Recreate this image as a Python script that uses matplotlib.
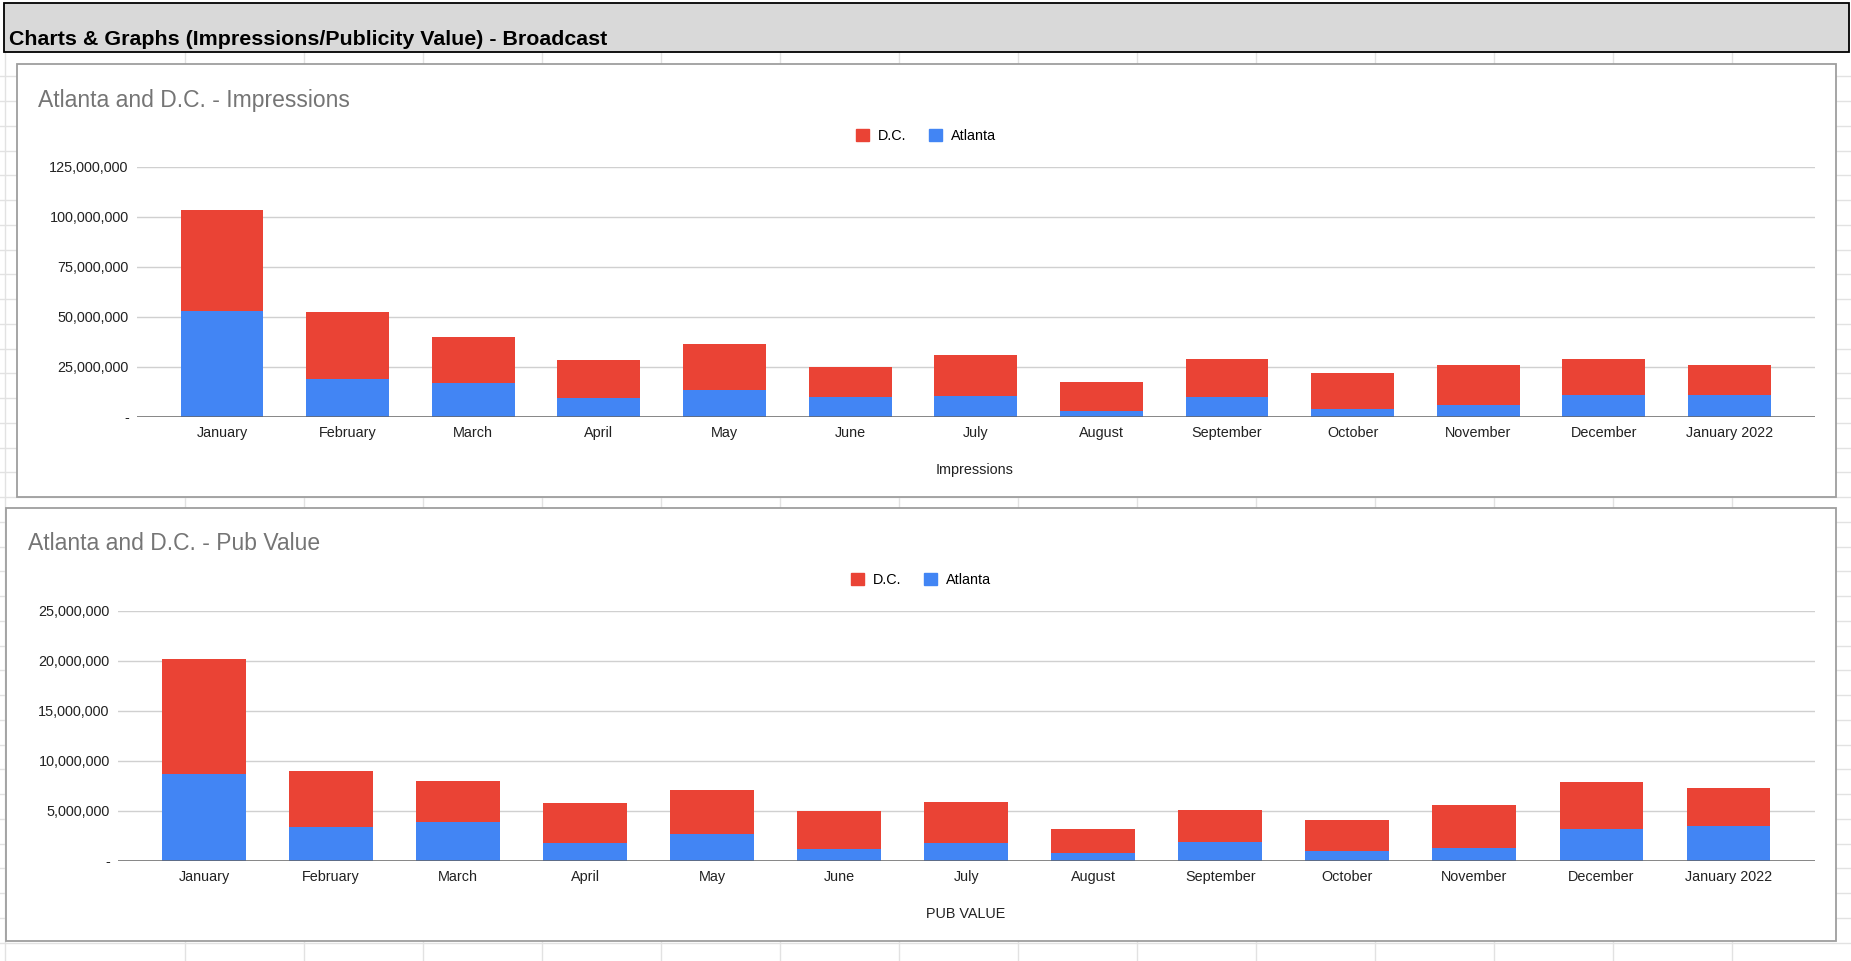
import numpy as np
import matplotlib
matplotlib.use('Agg')
import matplotlib.pyplot as plt
from matplotlib.patches import Rectangle, Patch
from matplotlib.lines import Line2D
from matplotlib.ticker import FuncFormatter

plt.rcParams['font.family'] = ['Liberation Sans', 'DejaVu Sans']

# ---- data ----
months = ['January', 'February', 'March', 'April', 'May', 'June', 'July',
          'August', 'September', 'October', 'November', 'December', 'January 2022']

imp_atlanta = [53.0, 18.7, 17.0, 9.5, 13.5, 9.7, 10.5, 2.8, 10.0, 4.0, 6.0, 11.0, 11.0]
imp_total = [103.2, 52.5, 40.0, 28.3, 36.2, 24.7, 30.7, 17.2, 29.0, 21.8, 26.0, 29.0, 26.0]

pub_atlanta = [8.73, 3.40, 3.83, 1.80, 2.63, 1.20, 1.73, 0.73, 1.83, 1.00, 1.30, 3.13, 3.50]
pub_total = [20.17, 9.03, 7.93, 5.73, 7.03, 4.97, 5.83, 3.13, 5.03, 4.07, 5.60, 7.83, 7.23]

imp_atlanta = np.array(imp_atlanta) * 1e6
imp_dc = np.array(imp_total) * 1e6 - imp_atlanta
pub_atlanta = np.array(pub_atlanta) * 1e6
pub_dc = np.array(pub_total) * 1e6 - pub_atlanta

RED = '#ea4335'
BLUE = '#4285f4'
W, H = 1851, 961

fig = plt.figure(figsize=(W / 100, H / 100), dpi=100)


def fx(px):
    return px / W


def fy(py):
    return 1 - py / H


# spreadsheet grid in the background
for k in range(1, 38):
    y = 51.7 + k * 24.75
    fig.add_artist(Line2D([0, 1], [fy(y), fy(y)], color='#e2e2e2', lw=1, zorder=-3))
for x in [5.4] + [185 + k * 119 for k in range(14)]:
    fig.add_artist(Line2D([fx(x), fx(x)], [fy(52), 0], color='#e2e2e2', lw=1, zorder=-3))

# header bar
fig.add_artist(Rectangle((fx(3.5), fy(52)), fx(1849) - fx(3.5), fy(3.5) - fy(52),
                         facecolor='#d9d9d9', edgecolor='black', lw=1.3, zorder=-2))
fig.text(fx(9), fy(39.5), 'Charts & Graphs (Impressions/Publicity Value) - Broadcast',
         fontsize=15.4, fontweight='bold', ha='left', va='center', color='black')

# chart boxes
for (x0, y0, x1, y1) in [(16.5, 64, 1835.5, 497), (6, 508, 1835.5, 941)]:
    fig.add_artist(Rectangle((fx(x0), fy(y1)), fx(x1) - fx(x0), fy(y0) - fy(y1),
                             facecolor='white', edgecolor='#9e9e9e', lw=1.3, zorder=-2))


def draw_chart(left, right, top, bottom, atl, dc, ymax, step, title, title_xy,
               legend_xy, xlabel, xlabel_xy):
    ax = fig.add_axes([fx(left), fy(bottom), fx(right) - fx(left), fy(top) - fy(bottom)])
    x = np.arange(len(months))
    ax.bar(x, atl, width=0.66, color=BLUE, zorder=3)
    ax.bar(x, dc, width=0.66, bottom=atl, color=RED, zorder=3)
    ax.set_xlim(-0.677, len(months) - 1 + 0.677)
    ax.set_ylim(0, ymax)
    ax.set_yticks(np.arange(0, ymax + 1, step))
    ax.yaxis.set_major_formatter(FuncFormatter(lambda v, p: '-' if v == 0 else f'{v:,.0f}'))
    ax.set_xticks(x)
    ax.set_xticklabels(months)
    ax.tick_params(length=0, labelsize=10.4, colors='#222222')
    ax.tick_params(axis='y', pad=6)
    ax.tick_params(axis='x', pad=7)
    ax.yaxis.grid(True, color='#d0d0d0', lw=1)
    ax.set_axisbelow(True)
    for s in ax.spines.values():
        s.set_visible(False)
    ax.axhline(0, color='#666666', lw=1.8, zorder=4)
    ax.set_facecolor('none')

    fig.text(fx(title_xy[0]), fy(title_xy[1]), title, fontsize=16.5, color='#757575',
             ha='left', va='center')
    fig.text(fx(xlabel_xy[0]), fy(xlabel_xy[1]), xlabel, fontsize=10.4, color='#222222',
             ha='center', va='center')
    handles = [Patch(color=RED), Patch(color=BLUE)]
    fig.legend(handles, ['D.C.', 'Atlanta'], loc='center',
               bbox_to_anchor=(fx(legend_xy[0]), fy(legend_xy[1])), ncol=2,
               frameon=False, fontsize=10.4, handlelength=0.9, handleheight=0.9,
               handletextpad=0.6, columnspacing=1.6)
    return ax


draw_chart(137, 1814.5, 166.7, 416.7, imp_atlanta, imp_dc, 125e6, 25e6,
           'Atlanta and D.C. - Impressions', (37.5, 100), (926, 136),
           'Impressions', (975, 470))
draw_chart(118, 1814.5, 611, 860.7, pub_atlanta, pub_dc, 25e6, 5e6,
           'Atlanta and D.C. - Pub Value', (28, 544), (921, 580),
           'PUB VALUE', (966, 914))

fig.savefig('out.png', dpi=100)
